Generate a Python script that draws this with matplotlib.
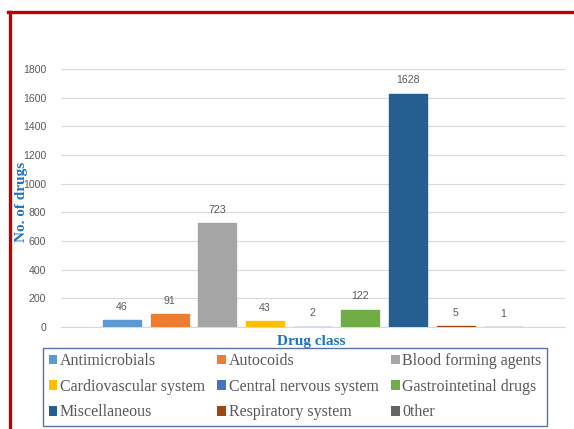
import matplotlib.pyplot as plt
from matplotlib.patches import Patch
from matplotlib.lines import Line2D

classes = ["Antimicrobials", "Autocoids", "Blood forming agents",
           "Cardiovascular system", "Central nervous system", "Gastrointetinal drugs",
           "Miscellaneous", "Respiratory system", "0ther"]
counts = [46, 91, 723, 43, 2, 122, 1628, 5, 1]
colors = ["#5B9BD5", "#ED7D31", "#A5A5A5", "#FFC000", "#4472C4", "#70AD47",
          "#255E91", "#9E480E", "#636363"]
yticks = [0, 200, 400, 600, 800, 1000, 1200, 1400, 1600, 1800]

W, H = 574, 429
fig = plt.figure(figsize=(W / 100, H / 100), dpi=100)

# plot area in pixels: x 60.7..565, y 69..327
ax = fig.add_axes([60.7 / W, 1 - 327 / H, (565 - 60.7) / W, (327 - 69) / H])

x = list(range(len(classes)))
# thin edge in the bar colour keeps the very small bars visible, as in the original
ax.bar(x, counts, width=0.8, color=colors, edgecolor=colors, linewidth=1.0, zorder=3)
for xi, v in zip(x, counts):
    ax.annotate(str(v), (xi, v), xytext=(0, 6), textcoords="offset points",
                ha="center", va="bottom", fontsize=7.6, color="#595959",
                family="Liberation Sans")

ax.set_xlim(-1.285, 9.29)
ax.set_ylim(0, 1800)
ax.set_yticks(yticks)
ax.set_xticks([])
ax.grid(axis="y", color="#D9D9D9", linewidth=0.8, zorder=0)
for s in ["top", "right", "left"]:
    ax.spines[s].set_visible(False)
ax.spines["bottom"].set_color("#D9D9D9")
ax.spines["bottom"].set_linewidth(0.8)
ax.tick_params(axis="y", length=0, pad=10.5, labelsize=7.6, labelcolor="#595959")
for lab in ax.get_yticklabels():
    lab.set_family("Liberation Sans")

blue = "#1F73C1"
fig.text(21.5 / W, 1 - 202 / H, "No. of drugs", rotation=90, ha="center", va="center",
         fontsize=11, fontweight="bold", color=blue, family="Liberation Serif")
fig.text(311 / W, 1 - 341 / H, "Drug class", ha="center", va="center",
         fontsize=11, fontweight="bold", color=blue, family="Liberation Serif")

# legend filled row-wise like the original (3 columns)
handles = [Patch(facecolor=c, edgecolor="none") for c in colors]
order = [0, 3, 6, 1, 4, 7, 2, 5, 8]
leg = fig.legend([handles[i] for i in order], [classes[i] for i in order],
                 ncol=3, loc="lower left", mode="expand",
                 bbox_to_anchor=(43 / W, 3 / H, 504 / W, 78 / H),
                 prop={"family": "Liberation Serif", "size": 11.5},
                 labelcolor="#595959", frameon=True, fancybox=False,
                 edgecolor="#2F4F8F", handlelength=0.55, handleheight=0.55,
                 handletextpad=0.15, labelspacing=0.6, borderpad=0.35,
                 borderaxespad=0, columnspacing=0.3)
leg.get_frame().set_linewidth(1.0)

# red frame around the chart
fig.add_artist(Line2D([9.5 / W, 9.5 / W], [0, 1 - 12 / H], color="#C00000", linewidth=2.4))
fig.add_artist(Line2D([8.2 / W, 1], [1 - 12 / H, 1 - 12 / H], color="#C00000", linewidth=2.4))

fig.savefig("out.png", dpi=100)
